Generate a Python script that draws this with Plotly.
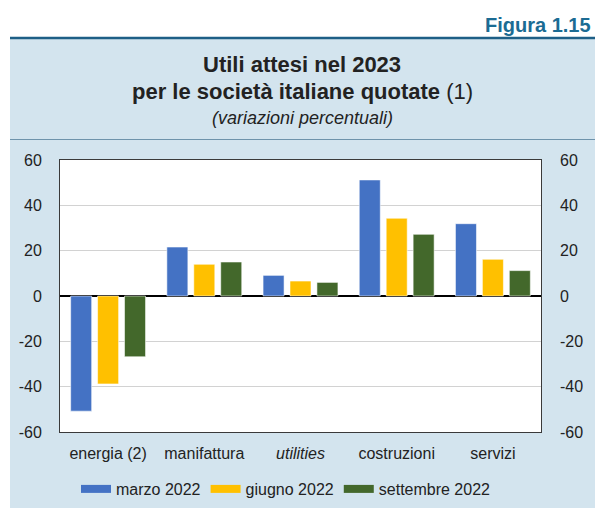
import plotly.graph_objects as go

categories = ["energia (2)", "manifattura", "utilities", "costruzioni", "servizi"]
tick_labels = ["energia (2)", "manifattura", "<i>utilities</i>", "costruzioni", "servizi"]
series_names = ["marzo 2022", "giugno 2022", "settembre 2022"]
marzo = [-50.8, 21.6, 9.1, 51.2, 31.9]
giugno = [-38.8, 14.0, 6.6, 34.3, 16.2]
settembre = [-26.8, 15.0, 6.0, 27.2, 11.2]
y_ticks = [-60, -40, -20, 0, 20, 40, 60]
y_tick_labels = ["-60", "-40", "-20", "0", "20", "40", "60"]
colors = ["#4472C4", "#FFC000", "#43682B"]

FONT = "Liberation Sans, Arial, Helvetica, sans-serif"
W, H = 595, 508
L, R, T, B = 60, 54, 160, 76
pw, ph = W - L - R, H - T - B

def px_x(x):
    return (x - L) / pw

def px_y(y):
    return (H - B - y) / ph

fig = go.Figure()
for name, vals, col in zip(series_names, [marzo, giugno, settembre], colors):
    fig.add_trace(go.Bar(
        x=categories, y=vals, name=name, showlegend=False,
        marker=dict(color=col, line=dict(color="rgba(255,255,255,0.55)", width=1)),
    ))
# legend entries
for name, col in zip(series_names, colors):
    fig.add_trace(go.Scatter(
        x=[None], y=[None], mode="lines", name=name,
        line=dict(color=col, width=8), showlegend=True,
    ))
# right axis companion
fig.add_trace(go.Scatter(x=categories, y=[None] * 5, yaxis="y2", mode="lines",
                         showlegend=False, hoverinfo="skip"))

shapes = [
    dict(type="rect", xref="paper", yref="paper", x0=px_x(10), x1=px_x(600),
         y0=px_y(520), y1=px_y(38), fillcolor="#D3E4EE", line=dict(width=0), layer="below"),
    dict(type="rect", xref="paper", yref="paper", x0=0, x1=1, y0=0, y1=1,
         fillcolor="white", line=dict(width=0), layer="below"),
    dict(type="line", xref="paper", yref="paper", x0=px_x(10), x1=px_x(595),
         y0=px_y(38), y1=px_y(38), line=dict(color="#1E5F86", width=2.5)),
    dict(type="line", xref="paper", yref="paper", x0=px_x(10), x1=px_x(595),
         y0=px_y(139.5), y1=px_y(139.5), line=dict(color="#6E93AB", width=1)),
]

annotations = [
    dict(text="<b>Figura 1.15</b>", xref="paper", yref="paper", x=px_x(593), y=px_y(25),
         xanchor="right", yanchor="middle", showarrow=False,
         font=dict(family=FONT, size=20, color="#1B6B93")),
    dict(text="<b>Utili attesi nel 2023</b>", xref="paper", yref="paper", x=px_x(302), y=px_y(65),
         xanchor="center", yanchor="middle", showarrow=False,
         font=dict(family=FONT, size=22, color="#222222")),
    dict(text="<b>per le società italiane quotate</b> (1)", xref="paper", yref="paper",
         x=px_x(302), y=px_y(91), xanchor="center", yanchor="middle", showarrow=False,
         font=dict(family=FONT, size=22, color="#222222")),
    dict(text="<i>(variazioni percentuali)</i>", xref="paper", yref="paper",
         x=px_x(302), y=px_y(118), xanchor="center", yanchor="middle", showarrow=False,
         font=dict(family=FONT, size=18, color="#222222")),
]

yax = dict(range=[-60, 60], tickvals=y_ticks, ticktext=y_tick_labels, ticks="",
           showgrid=True, gridcolor="#D2D2D2", gridwidth=1,
           zeroline=True, zerolinecolor="black", zerolinewidth=1.5,
           tickfont=dict(family=FONT, size=16, color="#222222"), fixedrange=True)

fig.update_layout(
    width=W, height=H, margin=dict(l=L, r=R, t=T, b=B, autoexpand=False),
    paper_bgcolor="white", plot_bgcolor="rgba(0,0,0,0)",
    barmode="group", bargap=0.16, bargroupgap=0.22,
    font=dict(family=FONT, color="#222222"),
    xaxis=dict(tickvals=categories, ticktext=tick_labels, showline=True, mirror=True,
               linecolor="#3A3A3A", linewidth=1, ticks="", ticklabelstandoff=7,
               tickfont=dict(family=FONT, size=16, color="#222222")),
    yaxis=dict(**yax, showline=True, mirror=True, linecolor="#3A3A3A", linewidth=1,
               ticklabelstandoff=14),
    yaxis2=dict(**dict(yax, showgrid=False, zeroline=False), overlaying="y", side="right",
                showline=False, ticklabelstandoff=18),
    legend=dict(orientation="h", x=px_x(286), y=px_y(489), xanchor="center", yanchor="middle",
                font=dict(family=FONT, size=16, color="#222222"), bgcolor="rgba(0,0,0,0)",
                itemwidth=30, tracegroupgap=0, traceorder="normal"),
    shapes=shapes, annotations=annotations,
    showlegend=True,
)

fig.write_html("out.html")
